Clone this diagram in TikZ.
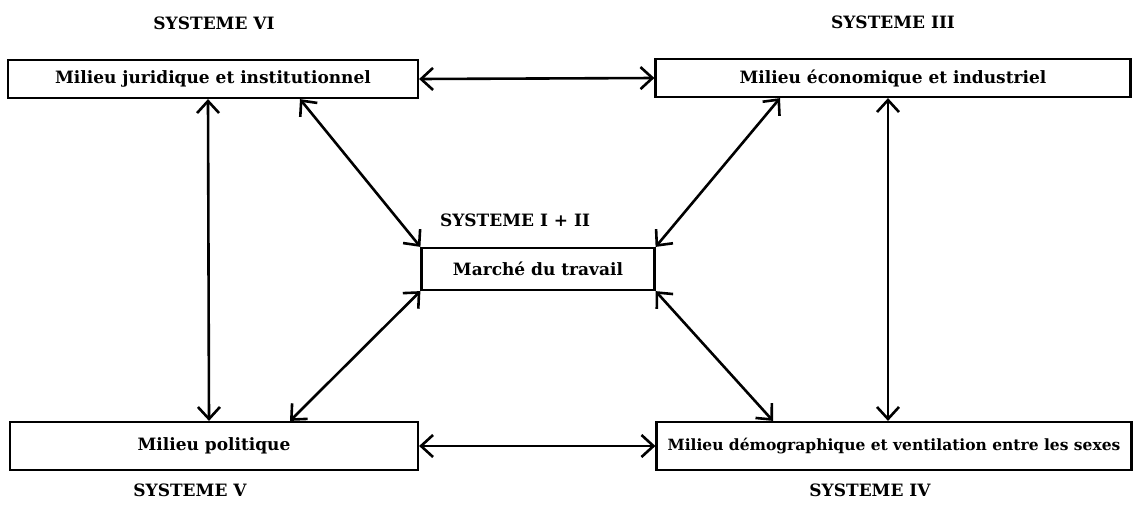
\documentclass[tikz,border=0pt]{standalone}
\usepackage{fontspec}
\setmainfont{DejaVu Serif}
\usetikzlibrary{arrows.meta}
\tikzset{
  milieu/.style={draw, line width=2.2pt, minimum height=38pt, inner sep=0pt,
    font=\bfseries\fontsize{17}{20}\selectfont},
  systeme/.style={font=\bfseries\fontsize{17}{20}\selectfont},
  lien/.style={<->, line width=2.6pt, >={Straight Barb[length=12pt,width=22pt]}}
}
\begin{document}
\begin{tikzpicture}[x=1pt,y=-1pt]
        \useasboundingbox (0,0) rectangle (1133,504);
        %milieux
        \node[milieu, minimum width=410pt] (vi) at (213,79) {Milieu juridique et institutionnel};
        \node[milieu, minimum width=475pt] (iii) at (893,78) {Milieu économique et industriel};
        \node[milieu, minimum width=233pt, minimum height=42pt] (mt) at (538,269) {Marché du travail};
        \node[milieu, minimum width=408pt, minimum height=48pt] (v) at (214,446) {Milieu politique};
        \node[milieu, minimum width=475pt, minimum height=48pt,
          font=\bfseries\fontsize{15.5}{18}\selectfont] (iv) at (894,446)
          {Milieu démographique et ventilation entre les sexes};
        %systemes
        \node[systeme] (svi) at (214,23) {SYSTEME VI};
        \node[systeme] (siii) at (893,22) {SYSTEME III};
        \node[systeme] (smt) at (515,220) {SYSTEME I + II};
        \node[systeme] (sv) at (190,490) {SYSTEME V};
        \node[systeme] (siv) at (870,490) {SYSTEME IV};
        %liens
        \draw[lien] (vi.east) -- (iii.west);
        \draw[lien] (v.east) -- (iv.west);
        \draw[lien] ([xshift=-5pt]vi.south) -- ([xshift=-5pt]v.north);
        \draw[lien] ([xshift=-5pt]iii.south) -- ([xshift=-6pt]iv.north);
        \draw[lien] ([xshift=87pt]vi.south) -- (mt.north west);
        \draw[lien] ([xshift=-113pt]iii.south) -- (mt.north east);
        \draw[lien] ([xshift=76pt]v.north) -- (mt.south west);
        \draw[lien] ([xshift=-121pt]iv.north) -- (mt.south east);
\end{tikzpicture}
\end{document}
